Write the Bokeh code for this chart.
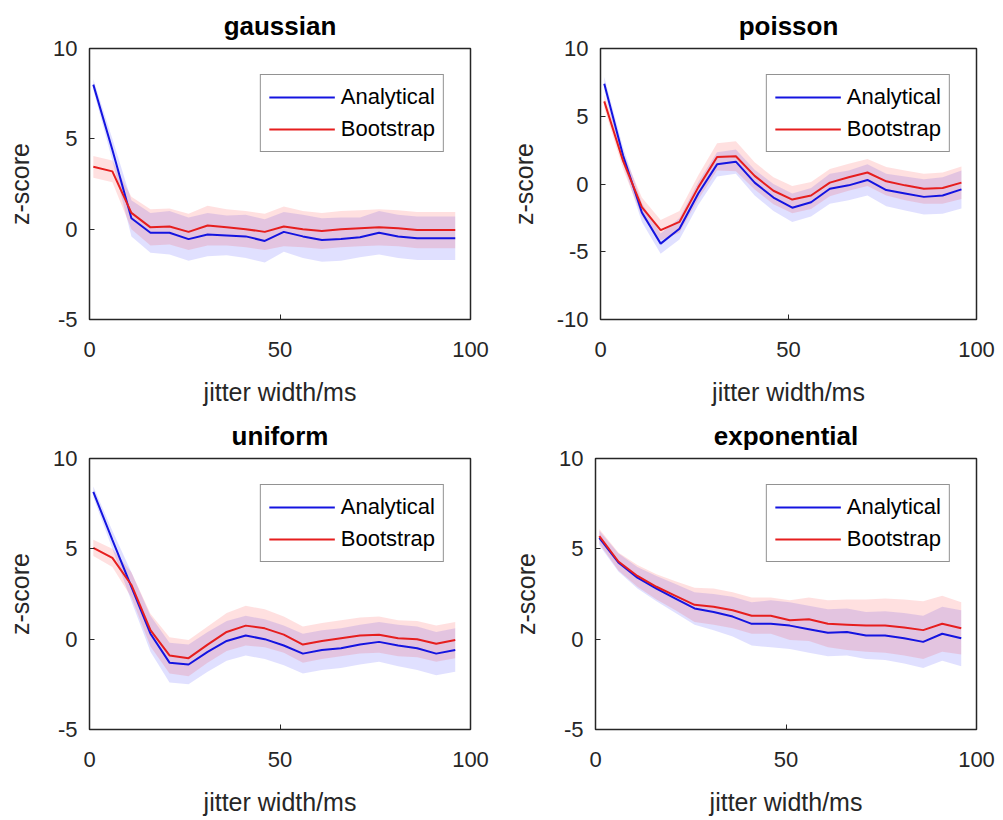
from bokeh.plotting import figure
from bokeh.layouts import column, row
from bokeh.models import Range1d, FixedTicker, PrintfTickFormatter
from bokeh.embed import file_html
from bokeh.resources import INLINE

jitter_ms = [1, 6, 11, 16, 21, 26, 31, 36, 41, 46, 51, 56, 61, 66, 71, 76, 81, 86, 91, 96]

gauss_analytical = [8.0, 4.4, 0.6, -0.2, -0.2, -0.55, -0.3, -0.35, -0.4, -0.65, -0.15, -0.4, -0.6, -0.55, -0.45, -0.2, -0.4, -0.5, -0.5, -0.5]
gauss_bootstrap = [3.45, 3.2, 0.9, 0.1, 0.15, -0.15, 0.2, 0.1, 0.0, -0.15, 0.15, 0.0, -0.1, 0.0, 0.05, 0.1, 0.05, -0.05, -0.05, -0.05]
gauss_analytical_err = [0.3, 0.6, 1.0, 1.1, 1.2, 1.2, 1.2, 1.1, 1.2, 1.2, 1.1, 1.2, 1.2, 1.2, 1.1, 1.2, 1.2, 1.2, 1.2, 1.2]
gauss_bootstrap_err = [0.6, 0.6, 0.9, 1.0, 1.0, 1.0, 1.1, 1.0, 1.0, 1.0, 1.1, 1.0, 1.0, 1.0, 1.0, 1.0, 1.0, 1.0, 1.0, 1.0]

poisson_analytical = [7.4, 2.1, -2.1, -4.4, -3.3, -0.7, 1.45, 1.65, 0.1, -1.0, -1.75, -1.35, -0.35, -0.1, 0.3, -0.45, -0.7, -0.95, -0.85, -0.4]
poisson_bootstrap = [6.1, 1.7, -1.7, -3.4, -2.8, -0.25, 2.0, 2.05, 0.6, -0.5, -1.15, -0.85, 0.1, 0.5, 0.85, 0.2, -0.1, -0.35, -0.3, 0.1]
poisson_analytical_err = [0.5, 0.6, 0.7, 0.75, 0.8, 0.85, 0.9, 0.9, 0.95, 1.0, 1.05, 1.05, 1.1, 1.1, 1.15, 1.2, 1.25, 1.3, 1.35, 1.4]
poisson_bootstrap_err = [0.5, 0.6, 0.7, 0.75, 0.8, 0.9, 1.0, 1.1, 1.0, 1.0, 1.0, 1.0, 1.0, 1.0, 1.0, 1.05, 1.1, 1.1, 1.15, 1.2]

uniform_analytical = [8.15, 5.5, 2.9, 0.3, -1.3, -1.4, -0.7, -0.1, 0.2, 0.0, -0.35, -0.8, -0.6, -0.5, -0.3, -0.15, -0.35, -0.5, -0.8, -0.6]
uniform_bootstrap = [5.05, 4.5, 3.0, 0.5, -0.9, -1.05, -0.3, 0.4, 0.75, 0.6, 0.25, -0.3, -0.1, 0.05, 0.2, 0.25, 0.05, 0.0, -0.25, -0.05]
uniform_analytical_err = [0.3, 0.5, 0.8, 1.0, 1.1, 1.1, 1.1, 1.1, 1.1, 1.1, 1.1, 1.1, 1.1, 1.1, 1.1, 1.1, 1.15, 1.2, 1.2, 1.2]
uniform_bootstrap_err = [0.45, 0.5, 0.7, 0.9, 1.0, 1.0, 1.0, 1.05, 1.1, 1.05, 1.0, 1.0, 1.0, 1.0, 1.0, 1.0, 1.0, 1.0, 1.0, 1.0]

expo_analytical = [5.6, 4.25, 3.4, 2.8, 2.25, 1.7, 1.5, 1.25, 0.85, 0.85, 0.75, 0.55, 0.35, 0.4, 0.2, 0.2, 0.05, -0.15, 0.3, 0.05]
expo_bootstrap = [5.7, 4.3, 3.5, 2.9, 2.4, 1.9, 1.8, 1.6, 1.3, 1.3, 1.05, 1.1, 0.85, 0.8, 0.75, 0.75, 0.65, 0.5, 0.85, 0.6]
expo_analytical_err = [0.4, 0.5, 0.6, 0.7, 0.8, 0.9, 1.0, 1.1, 1.2, 1.3, 1.3, 1.3, 1.3, 1.3, 1.3, 1.35, 1.4, 1.45, 1.5, 1.55]
expo_bootstrap_err = [0.4, 0.5, 0.6, 0.7, 0.8, 0.95, 1.0, 1.0, 1.0, 1.0, 1.1, 1.2, 1.3, 1.4, 1.45, 1.5, 1.55, 1.6, 1.55, 1.45]

titles = ["gaussian", "poisson", "uniform", "exponential"]
y_limits = [(-5, 10), (-10, 10), (-5, 10), (-5, 10)]
y_ticks = [[-5, 0, 5, 10], [-10, -5, 0, 5, 10], [-5, 0, 5, 10], [-5, 0, 5, 10]]
x_ticks = [0, 50, 100]
series_labels = ["Analytical", "Bootstrap"]

FONT = "Liberation Sans"
TXT = "#262626"
BLUE = "#1414e0"
RED = "#e61e1e"


def make_panel(title, ylim, yt, ana, boot, ana_err, boot_err, width, left, right):
    p = figure(width=width, height=410, output_backend="svg", toolbar_location=None,
               x_range=Range1d(0, 100), y_range=Range1d(*ylim),
               min_border_left=left, min_border_right=right,
               min_border_top=46, min_border_bottom=91)
    p.title.text = title
    p.title.align = "center"
    p.title.text_font = FONT
    p.title.text_font_size = "26px"
    p.title.text_font_style = "bold"
    p.title.text_color = "black"
    p.title.standoff = 16

    a_lo = [v - e for v, e in zip(ana, ana_err)]
    a_hi = [v + e for v, e in zip(ana, ana_err)]
    b_lo = [v - e for v, e in zip(boot, boot_err)]
    b_hi = [v + e for v, e in zip(boot, boot_err)]
    p.varea(x=jitter_ms, y1=a_lo, y2=a_hi, fill_color="blue", fill_alpha=0.12)
    p.varea(x=jitter_ms, y1=b_lo, y2=b_hi, fill_color="red", fill_alpha=0.12)
    p.line(jitter_ms, ana, line_color=BLUE, line_width=2, legend_label=series_labels[0])
    p.line(jitter_ms, boot, line_color=RED, line_width=2, legend_label=series_labels[1])

    p.xaxis.ticker = FixedTicker(ticks=x_ticks)
    p.yaxis.ticker = FixedTicker(ticks=yt)
    p.xaxis.formatter = PrintfTickFormatter(format="%d")
    p.yaxis.formatter = PrintfTickFormatter(format="%d")
    for ax in (p.xaxis[0], p.yaxis[0]):
        ax.axis_line_color = TXT
        ax.major_tick_line_color = TXT
        ax.major_tick_in = 5
        ax.major_tick_out = 0
        ax.minor_tick_line_color = None
        ax.major_label_text_font = FONT
        ax.major_label_text_font_size = "22px"
        ax.major_label_text_color = TXT
        ax.axis_label_text_font = FONT
        ax.axis_label_text_font_size = "25px"
        ax.axis_label_text_font_style = "normal"
        ax.axis_label_text_color = TXT
    p.xaxis.axis_label = "jitter width/ms"
    p.yaxis.axis_label = "z-score"
    p.xaxis.major_label_standoff = 22
    p.xaxis.axis_label_standoff = 18
    p.yaxis.major_label_standoff = 12
    p.yaxis.axis_label_standoff = 16

    p.xgrid.grid_line_color = None
    p.ygrid.grid_line_color = None
    p.outline_line_color = TXT
    p.outline_line_alpha = 1
    p.outline_line_width = 1.5

    lg = p.legend[0]
    lg.location = "top_right"
    lg.margin = 26
    lg.padding = 8
    lg.spacing = 4
    lg.label_text_font = FONT
    lg.label_text_font_size = "22px"
    lg.label_text_color = "black"
    lg.glyph_width = 66
    lg.glyph_height = 28
    lg.label_standoff = 6
    lg.border_line_color = TXT
    lg.border_line_width = 1.5
    lg.background_fill_alpha = 1
    return p


p1 = make_panel(titles[0], y_limits[0], y_ticks[0], gauss_analytical, gauss_bootstrap,
                gauss_analytical_err, gauss_bootstrap_err, 506, 89, 36)
p2 = make_panel(titles[1], y_limits[1], y_ticks[1], poisson_analytical, poisson_bootstrap,
                poisson_analytical_err, poisson_bootstrap_err, 497, 89, 27)
p3 = make_panel(titles[2], y_limits[2], y_ticks[2], uniform_analytical, uniform_bootstrap,
                uniform_analytical_err, uniform_bootstrap_err, 506, 89, 36)
p4 = make_panel(titles[3], y_limits[3], y_ticks[3], expo_analytical, expo_bootstrap,
                expo_analytical_err, expo_bootstrap_err, 497, 89, 27)

layout = column(row(p1, p2), row(p3, p4))
open("out.html", "w").write(file_html(layout, INLINE))
